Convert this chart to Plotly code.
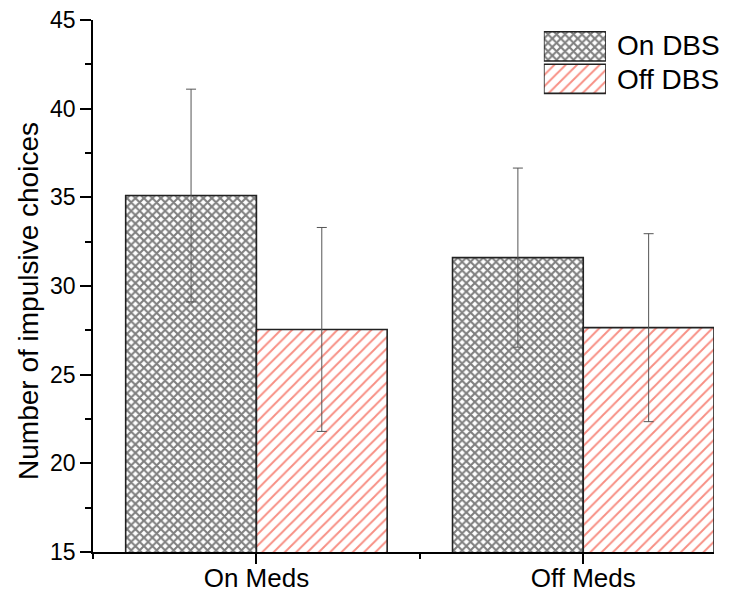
import plotly.graph_objects as go

categories = ["On Meds", "Off Meds"]
series_names = ["On DBS", "Off DBS"]
on_dbs = [35.1, 31.6]
on_dbs_err = [6.0, 5.05]
off_dbs = [27.55, 27.65]
off_dbs_err = [5.75, 5.3]
y_ticks = [15, 20, 25, 30, 35, 40, 45]
y_title = "Number of impulsive choices"

FONT = "Liberation Sans, Arial, sans-serif"
x_pos = list(range(len(categories)))

ON_FG, OFF_FG = "#000000", "#f0200a"
pat_on = dict(shape="x", fgcolor=ON_FG, bgcolor="white", size=6, solidity=0.58)
pat_off = dict(shape="/", fgcolor=OFF_FG, bgcolor="white", size=8, solidity=0.24)
err_style = dict(type="data", color="#555555", thickness=1, width=5)
outline = dict(color="#222222", width=1.6)

fig = go.Figure()
fig.add_trace(go.Bar(
    x=x_pos, y=on_dbs, name=series_names[0],
    error_y=dict(array=on_dbs_err, **err_style),
    marker=dict(color="white", pattern=pat_on, line=outline),
    showlegend=False,
))
fig.add_trace(go.Bar(
    x=x_pos, y=off_dbs, name=series_names[1],
    error_y=dict(array=off_dbs_err, **err_style),
    marker=dict(color="white", pattern=pat_off, line=outline),
    showlegend=False,
))

# custom legend with large hatched swatches
fig.add_trace(go.Bar(
    x=[1, 1], y=[1, 0], orientation="h", xaxis="x2", yaxis="y2", width=0.9,
    marker=dict(color="white",
                pattern=dict(shape=["x", "/"], fgcolor=[ON_FG, OFF_FG], bgcolor="white",
                             size=[6, 8], solidity=[0.58, 0.24]),
                line=outline),
    showlegend=False, hoverinfo="skip",
))
legend_y = [0.952, 0.888]
for nm, yy in zip(series_names, legend_y):
    fig.add_annotation(x=0.8406, y=yy, xref="paper", yref="paper", text=nm, showarrow=False,
                       xanchor="left", yanchor="middle", font=dict(family=FONT, size=28, color="black"))

# y-axis title as rotated annotation
fig.add_annotation(x=-0.103, y=0.472, xref="paper", yref="paper", text=y_title, showarrow=False,
                   textangle=-90, xanchor="center", yanchor="middle",
                   font=dict(family=FONT, size=28, color="black"))

fig.update_layout(
    width=736, height=592,
    margin=dict(l=85, r=30, t=12, b=48),
    paper_bgcolor="white", plot_bgcolor="white",
    barmode="group", bargap=0.2, bargroupgap=0,
    font=dict(family=FONT, color="black"),
    xaxis=dict(
        range=[-0.5, 1.4], tickmode="array", tickvals=x_pos, ticktext=categories,
        showline=True, linecolor="black", linewidth=1.6, showgrid=False, zeroline=False,
        ticks="outside", ticklen=10, tickwidth=1.6, tickcolor="black", automargin=False,
        tickfont=dict(size=26, family=FONT), ticklabelstandoff=-8, ticklabeloverflow="allow",
        minor=dict(tickmode="array", tickvals=[-0.5, 0.5], ticks="outside", ticklen=5,
                   tickwidth=1.6, tickcolor="black", showgrid=False),
    ),
    yaxis=dict(
        range=[15, 45], tickmode="array", tickvals=y_ticks,
        showline=True, linecolor="black", linewidth=1.6, showgrid=False, zeroline=False,
        ticks="outside", ticklen=11, tickwidth=1.6, tickcolor="black", automargin=False,
        tickfont=dict(size=23, family=FONT), ticklabeloverflow="allow",
        minor=dict(dtick=2.5, tick0=15, ticks="outside", ticklen=6, tickwidth=1.6,
                   tickcolor="black", showgrid=False),
    ),
    xaxis2=dict(domain=[0.726, 0.826], range=[0, 1], visible=False, anchor="y2", fixedrange=True),
    yaxis2=dict(domain=[0.859, 0.981], range=[-0.5, 1.5], visible=False, anchor="x2", fixedrange=True),
)

fig.write_html("out.html")
